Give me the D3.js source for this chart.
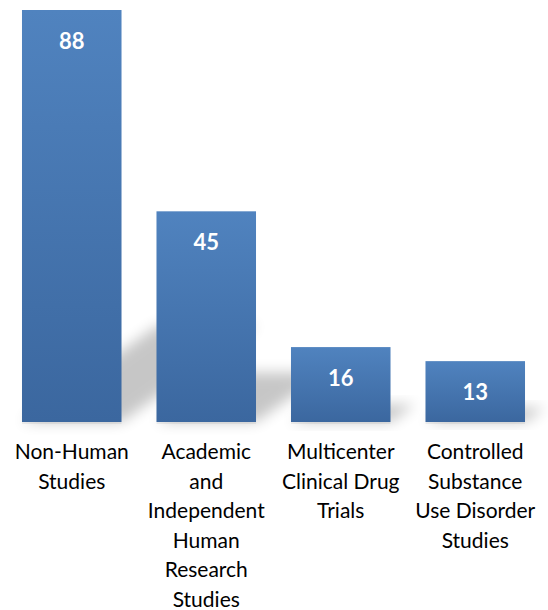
<!DOCTYPE html>
<html>
<head>
<meta charset="utf-8">
<script src="https://cdn.jsdelivr.net/npm/d3@7/dist/d3.min.js"></script>
<style>
  html, body { margin: 0; padding: 0; background: #fff; }
  svg { display: block; }
</style>
</head>
<body>
<svg id="chart" width="548" height="610"></svg>
<script>
const categories = [
  ["Non-Human", "Studies"],
  ["Academic", "and", "Independent", "Human", "Research", "Studies"],
  ["Multicenter", "Clinical Drug", "Trials"],
  ["Controlled", "Substance", "Use Disorder", "Studies"]
];
const values = [88, 45, 16, 13];
const categoryKeys = categories.map(c => c.join(" "));

const svg = d3.select("#chart");
const W = 548, H = 610;
const baseline = 422;

const x = d3.scaleBand()
  .domain(categoryKeys)
  .range([4.5, 542.5])
  .paddingInner(0.26)
  .paddingOuter(0.13);

const y = d3.scaleLinear()
  .domain([0, 88])
  .range([baseline, 10]);

const defs = svg.append("defs");
const grad = defs.append("linearGradient")
  .attr("id", "barGrad")
  .attr("x1", 0).attr("y1", 0).attr("x2", 0).attr("y2", 1);
grad.append("stop").attr("offset", "0%").attr("stop-color", "#5083bf");
grad.append("stop").attr("offset", "100%").attr("stop-color", "#3b679f");

const blur = defs.append("filter")
  .attr("id", "shadowBlur")
  .attr("x", "-50%").attr("y", "-50%").attr("width", "200%").attr("height", "200%");
blur.append("feGaussianBlur").attr("stdDeviation", 7);

const data = categoryKeys.map((k, i) => ({ key: k, lines: categories[i], value: values[i] }));

// perspective shadows
const shadowRise = 0.235, shadowShift = 0.33;
svg.append("g").selectAll("path")
  .data(data)
  .join("path")
  .attr("d", d => {
    const x0 = x(d.key), x1 = x0 + x.bandwidth();
    const h = baseline - y(d.value);
    const dy = h * shadowRise, dx = h * shadowShift;
    return `M${x0},${baseline}L${x1},${baseline}L${x1 + dx},${baseline - dy}L${x0 + dx},${baseline - dy}Z`;
  })
  .attr("fill", "#000")
  .attr("opacity", 0.22)
  .attr("filter", "url(#shadowBlur)");

// faint base shadow line
svg.append("g").selectAll("rect")
  .data(data)
  .join("rect")
  .attr("x", d => x(d.key))
  .attr("y", baseline)
  .attr("width", x.bandwidth())
  .attr("height", 2)
  .attr("fill", "#000")
  .attr("opacity", 0.06);

// bars
svg.append("g").selectAll("rect")
  .data(data)
  .join("rect")
  .attr("x", d => x(d.key))
  .attr("y", d => y(d.value))
  .attr("width", x.bandwidth())
  .attr("height", d => baseline - y(d.value))
  .attr("fill", "url(#barGrad)");

// value labels
svg.append("g").selectAll("text")
  .data(data)
  .join("text")
  .attr("x", d => x(d.key) + x.bandwidth() / 2)
  .attr("y", d => y(d.value) + 39)
  .attr("text-anchor", "middle")
  .attr("font-family", "Lato, 'Open Sans', sans-serif")
  .attr("font-weight", "bold")
  .attr("font-size", "22px")
  .attr("fill", "#fff")
  .text(d => d.value);

// category labels
const lab = svg.append("g").selectAll("text")
  .data(data)
  .join("text")
  .attr("text-anchor", "middle")
  .attr("font-family", "Lato, 'Open Sans', sans-serif")
  .attr("font-size", "21px")
  .attr("fill", "#000");
lab.selectAll("tspan")
  .data(d => d.lines.map(l => ({ l, cx: x(d.key) + x.bandwidth() / 2 })))
  .join("tspan")
  .attr("x", t => t.cx)
  .attr("y", (t, i) => 459 + i * 29.5)
  .text(t => t.l);
</script>
</body>
</html>
